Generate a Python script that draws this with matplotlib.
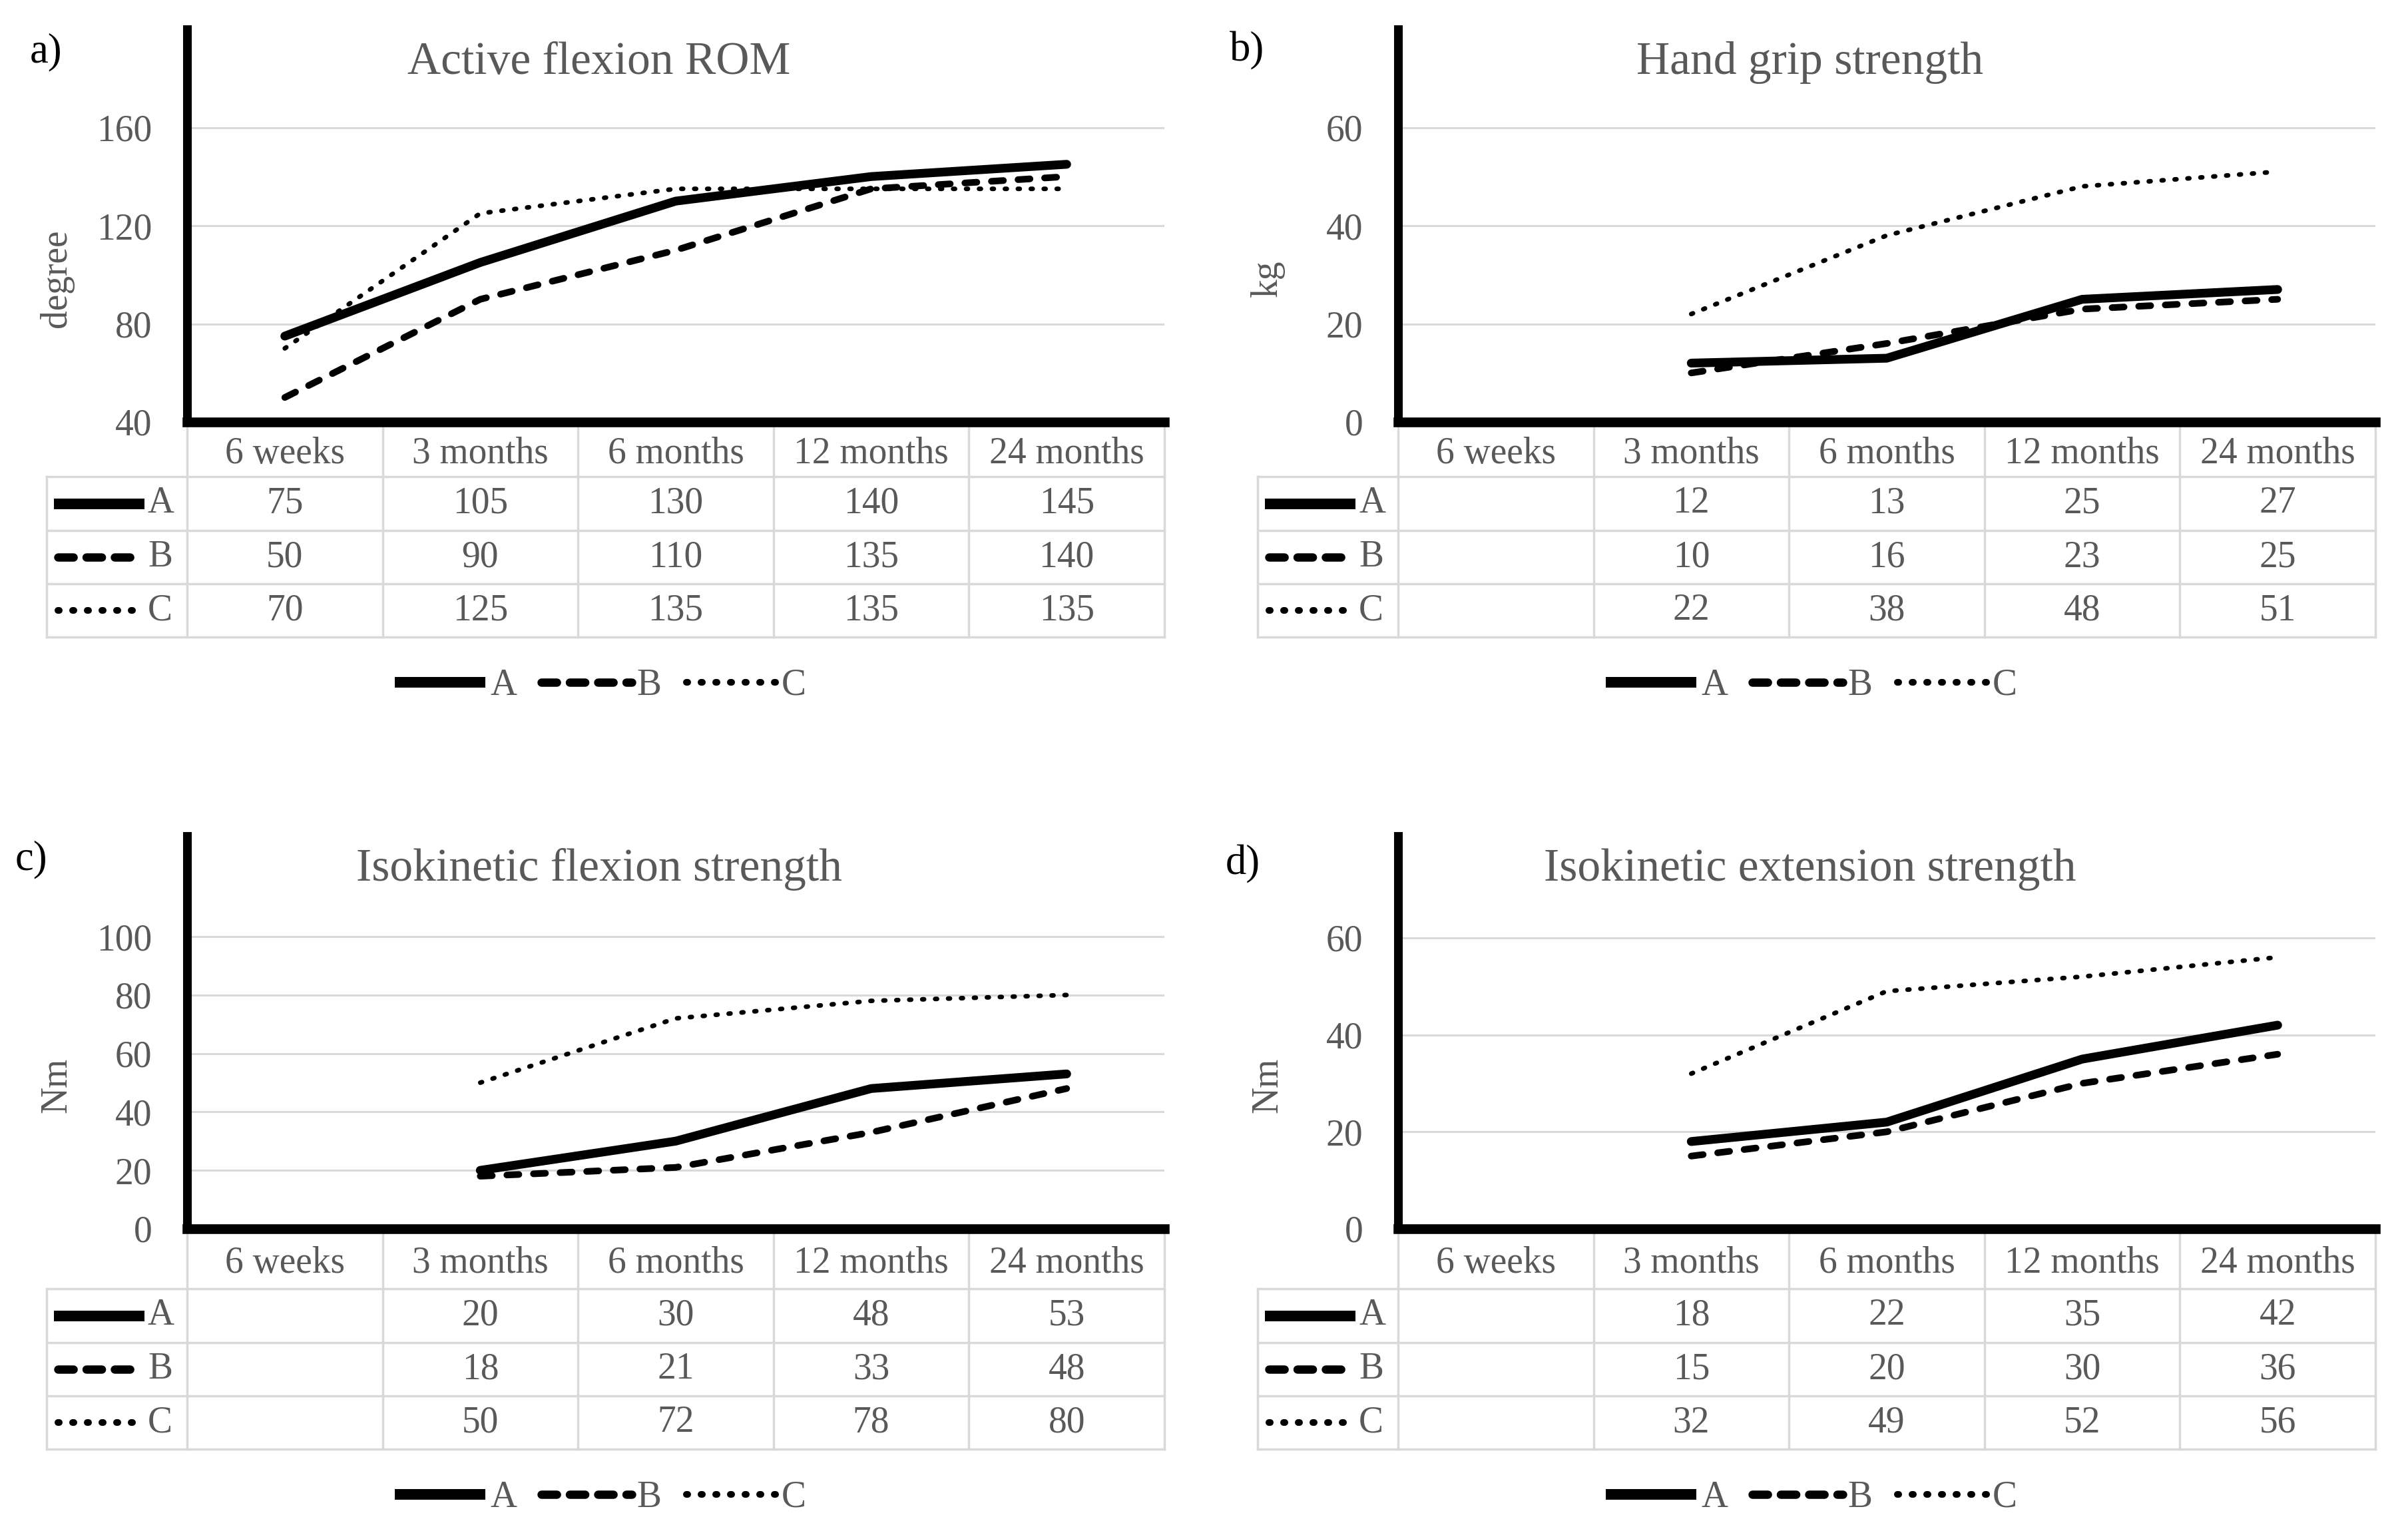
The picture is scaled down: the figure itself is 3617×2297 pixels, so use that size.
import numpy as np
import matplotlib.pyplot as plt
from matplotlib.lines import Line2D
from matplotlib.transforms import blended_transform_factory

plt.rcParams['font.family'] = ['Liberation Serif', 'DejaVu Serif']

W, H = 3617, 2297
GREY = '#595959'
GRID = '#d9d9d9'
nan = np.nan

times = ['6 weeks', '3 months', '6 months', '12 months', '24 months']
groups = ['A', 'B', 'C']

# a) active flexion ROM (degree)
rom_a = [75, 105, 130, 140, 145]
rom_b = [50, 90, 110, 135, 140]
rom_c = [70, 125, 135, 135, 135]
# b) hand grip strength (kg)
grip_a = [nan, 12, 13, 25, 27]
grip_b = [nan, 10, 16, 23, 25]
grip_c = [nan, 22, 38, 48, 51]
# c) isokinetic flexion strength (Nm)
flex_a = [nan, 20, 30, 48, 53]
flex_b = [nan, 18, 21, 33, 48]
flex_c = [nan, 50, 72, 78, 80]
# d) isokinetic extension strength (Nm)
ext_a = [nan, 18, 22, 35, 42]
ext_b = [nan, 15, 20, 30, 36]
ext_c = [nan, 32, 49, 52, 56]

# line styles for the plot and for the keys (table + legend)
plot_style = {
    'A': dict(color='black', lw=9.5, ls='-', solid_capstyle='round', solid_joinstyle='round'),
    'B': dict(color='black', lw=7.2, ls=(0, (1.8, 2.2)), dash_capstyle='round'),
    'C': dict(color='black', lw=5.0, ls=(0, (0.4, 2.4)), dash_capstyle='round'),
}
key_style = {
    'A': dict(color='black', lw=11.5, ls='-', solid_capstyle='butt'),
    'B': dict(color='black', lw=9.0, ls=(0, (1.85, 1.55)), dash_capstyle='round'),
    'C': dict(color='black', lw=7.2, ls=(0, (0.2, 2.0)), dash_capstyle='round'),
}

panels = [
    dict(tag='a)', tagxy=(45, 78), title='Active flexion ROM', ylabel='degree',
         series=(rom_a, rom_b, rom_c), ylim=(40, 200), yticks=[40, 80, 120, 160],
         ox=0, oy=0, dt=0),
    dict(tag='b)', tagxy=(1847, 76), title='Hand grip strength', ylabel='kg',
         series=(grip_a, grip_b, grip_c), ylim=(0, 80), yticks=[0, 20, 40, 60],
         ox=1819, oy=0, dt=0),
    dict(tag='c)', tagxy=(23, 1291), title='Isokinetic flexion strength', ylabel='Nm',
         series=(flex_a, flex_b, flex_c), ylim=(0, 134.4), yticks=[0, 20, 40, 60, 80, 100],
         ox=0, oy=1212, dt=8),
    dict(tag='d)', tagxy=(1841, 1298), title='Isokinetic extension strength', ylabel='Nm',
         series=(ext_a, ext_b, ext_c), ylim=(0, 81), yticks=[0, 20, 40, 60],
         ox=1819, oy=1212, dt=8),
]

RIGHT = 1749

fig = plt.figure(figsize=(W / 100, H / 100), dpi=100)


def fx(px):
    return px / W


def fy(py):
    return 1 - py / H


for p in panels:
    ox, oy, dt = p['ox'], p['oy'], p['dt']
    ax = fig.add_axes([fx(ox + 281), fy(oy + 634), (RIGHT - 281) / W, 590 / H])
    x = np.arange(len(times))
    for g, vals in zip(groups, p['series']):
        ax.plot(x, vals, **plot_style[g])
    ax.set_xlim(-0.5, len(times) - 0.5)
    ax.set_ylim(*p['ylim'])
    ax.set_yticks(p['yticks'])
    ax.set_xticks([])
    ax.yaxis.grid(True, color=GRID, lw=2.2)
    ax.set_axisbelow(True)
    for s in ('top', 'right'):
        ax.spines[s].set_visible(False)
    ax.spines['left'].set_linewidth(9.4)
    ax.spines['bottom'].set_linewidth(10.5)
    ax.tick_params(axis='y', length=0, pad=38, labelsize=40, labelcolor=GREY)

    # title, panel tag, y label
    fig.text(fx(ox + 900), fy(oy + 94), p['title'], ha='center', va='center',
             fontsize=50, color=GREY)
    fig.text(fx(p['tagxy'][0]), fy(p['tagxy'][1]), p['tag'], ha='left', va='center',
             fontsize=45, color='black')
    fig.text(fx(ox + 85), fy(oy + 418), p['ylabel'], ha='center', va='center',
             rotation=90, fontsize=40, color=GREY)

    # data table under the axis
    tr = blended_transform_factory(ax.transData, fig.transFigure)
    row_lines = [716 + dt, 797 + dt, 877 + dt, 957 + dt]
    for xb in np.arange(-0.5, len(times)):
        ax.add_line(Line2D([xb, xb], [fy(oy + 641), fy(oy + row_lines[-1])], transform=tr,
                           color=GRID, lw=2.5, clip_on=False))
    for yl in row_lines:
        fig.add_artist(Line2D([fx(ox + 70), fx(ox + RIGHT)], [fy(oy + yl)] * 2,
                              color=GRID, lw=2.5))
    fig.add_artist(Line2D([fx(ox + 70)] * 2, [fy(oy + row_lines[0]), fy(oy + row_lines[-1])],
                          color=GRID, lw=2.5))
    for i, t in enumerate(times):
        ax.text(i, fy(oy + 682 + dt / 2), t, transform=tr, ha='center', va='center',
                fontsize=40, color=GREY)
    for r, (g, vals) in enumerate(zip(groups, p['series'])):
        yc = (row_lines[r] + row_lines[r + 1]) / 2
        for i, v in enumerate(vals):
            if not np.isnan(v):
                ax.text(i, fy(oy + yc), f'{v:g}', transform=tr, ha='center',
                        va='center', fontsize=40, color=GREY)
        st = key_style[g]
        inset = 0 if g == 'A' else 6
        fig.add_artist(Line2D([fx(ox + 81 + inset), fx(ox + 217 - inset)],
                              [fy(oy + yc)] * 2, **st))
        fig.text(fx(ox + 222), fy(oy + yc), g, ha='left', va='center',
                 fontsize=40, color=GREY)

    # legend below the table
    handles = [Line2D([], [], **key_style[g]) for g in groups]
    fig.legend(handles, groups, loc='center',
               bbox_to_anchor=(fx(ox + 902), fy(oy + 1030 + dt)), ncol=3, frameon=False,
               fontsize=40, handlelength=2.45, handletextpad=0.13,
               columnspacing=0.67, labelcolor=GREY)

fig.savefig('out.png', dpi=100)
